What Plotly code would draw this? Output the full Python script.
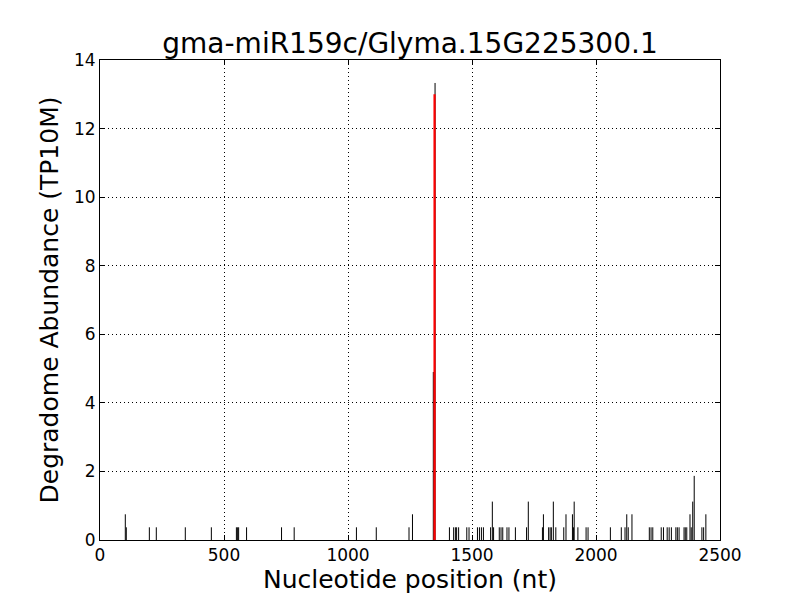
import plotly.graph_objects as go

# Degradome tag positions (nt) and abundances (TP10M)
positions = [102, 106, 199, 227, 344, 449, 550, 555, 559, 591,
             732, 783, 1034, 1114, 1246, 1260,
             1344, 1351,
             1409, 1426, 1433, 1438, 1446, 1479, 1488, 1522, 1530, 1538, 1546,
             1575, 1582, 1587, 1610, 1617, 1624, 1641, 1649, 1675,
             1720, 1727, 1784, 1788, 1809, 1815, 1820, 1828, 1838,
             1870, 1879, 1905, 1909, 1912, 1927, 1960, 1968,
             2058, 2102, 2117, 2124, 2130, 2145, 2215, 2222, 2229,
             2263, 2272, 2287, 2295, 2304, 2322, 2328, 2335, 2355, 2360, 2366,
             2379, 2384, 2390, 2396, 2427, 2434, 2443]
abundance = [0.75, 0.37, 0.37, 0.37, 0.37, 0.37, 0.37, 0.37, 0.37, 0.37,
             0.37, 0.37, 0.37, 0.37, 0.37, 0.75,
             4.9, 13.33,
             0.37, 0.37, 0.37, 0.37, 0.37, 0.37, 0.37, 0.37, 0.37, 0.37, 0.37,
             0.37, 1.12, 0.37, 0.37, 0.37, 0.37, 0.37, 0.37, 0.37,
             0.37, 1.12, 0.37, 0.75, 0.37, 0.37, 0.37, 1.12, 0.37,
             0.37, 0.75, 0.75, 0.37, 1.12, 0.37, 0.37, 0.37,
             0.37, 0.37, 0.37, 0.75, 0.37, 0.75, 0.37, 0.37, 0.37,
             0.37, 0.37, 0.37, 0.37, 0.37, 0.37, 0.37, 0.37, 0.37, 0.37, 0.37,
             0.75, 0.37, 1.12, 1.87, 0.37, 0.37, 0.75]

# Predicted cleavage site (highlighted in red)
site_position = [1349]
site_abundance = [13.0]

title_text = "gma-miR159c/Glyma.15G225300.1"
x_ticks = [0, 500, 1000, 1500, 2000, 2500]
y_ticks = [0, 2, 4, 6, 8, 10, 12, 14]


def stems(xs, ys):
    sx, sy = [], []
    for x, y in zip(xs, ys):
        sx += [x, x, None]
        sy += [0, y, None]
    return sx, sy


bx, by = stems(positions, abundance)
rx, ry = stems(site_position, site_abundance)

fig = go.Figure()
fig.add_trace(go.Scatter(x=bx, y=by, mode="lines",
                         line=dict(color="black", width=1), hoverinfo="skip",
                         showlegend=False))
fig.add_trace(go.Scatter(x=rx, y=ry, mode="lines",
                         line=dict(color="red", width=2.2), hoverinfo="skip",
                         showlegend=False))

axis_common = dict(
    showline=True, linecolor="black", linewidth=1, mirror="allticks",
    ticks="inside", ticklen=5, tickcolor="black",
    showgrid=True, gridcolor="black", griddash="1px,3px", gridwidth=1,
    zeroline=False, automargin=False,
    tickfont=dict(family="DejaVu Sans", size=17, color="black"),
)

# page body has an 8px margin, so the figure is 792x592 and shifted accordingly
W, H = 792, 592
fig.update_layout(
    width=W, height=H,
    margin=dict(l=92, r=80, t=52, b=60, autoexpand=False),
    paper_bgcolor="white", plot_bgcolor="white",
    title=dict(text=title_text, x=0.5, xref="paper", xanchor="center",
               y=1 - 35 / H, yanchor="middle", yref="container",
               automargin=False,
               font=dict(family="DejaVu Sans", size=28, color="black")),
    xaxis=dict(range=[0, 2500], tickvals=x_ticks,
               title=dict(text="Nucleotide position (nt)", standoff=6,
                          font=dict(family="DejaVu Sans", size=25, color="black")),
               **axis_common),
    yaxis=dict(range=[0, 14], tickvals=y_ticks,
               title=dict(text="Degradome Abundance (TP10M)", standoff=8,
                          font=dict(family="DejaVu Sans", size=25, color="black")),
               **axis_common),
)

fig.write_html("out.html")
